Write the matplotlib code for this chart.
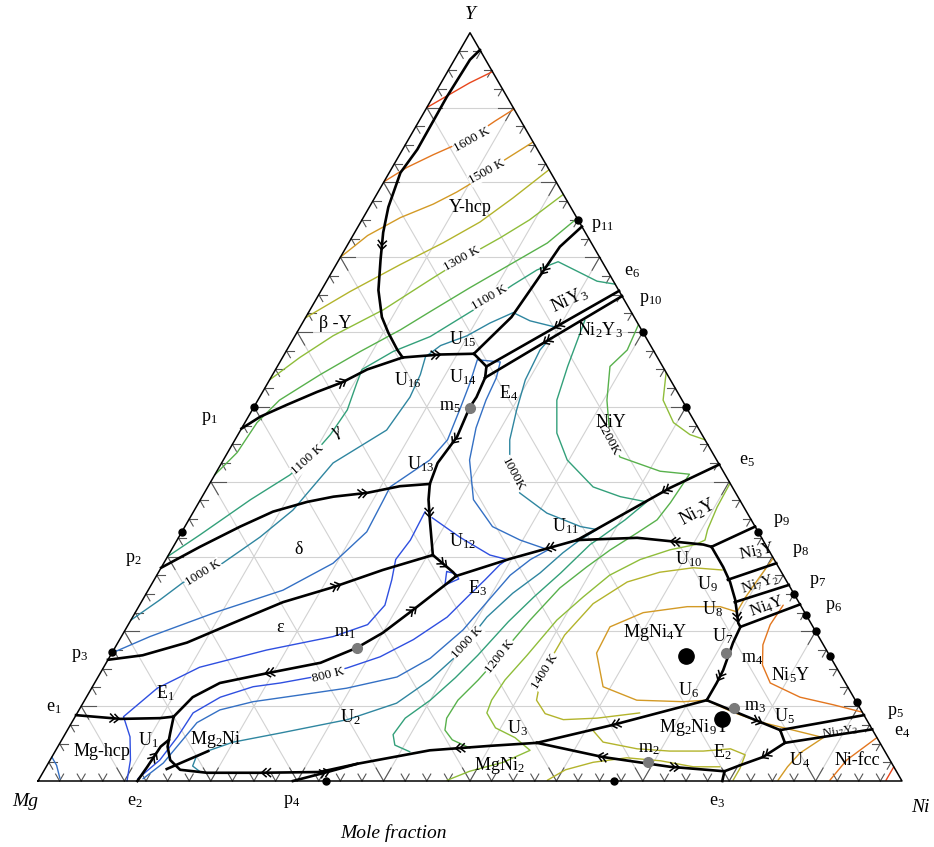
import numpy as np
import matplotlib
matplotlib.use("Agg")
import matplotlib.pyplot as plt

plt.rcParams['font.family'] = ['Liberation Serif', 'DejaVu Serif']
plt.rcParams['mathtext.fontset'] = 'custom'
plt.rcParams['mathtext.rm'] = 'Liberation Serif'
plt.rcParams['mathtext.it'] = 'Liberation Serif:italic'

# ---------------------------------------------------------------------------
# Mg-Ni-Y liquidus projection; every point is (x_Ni, x_Y) in mole fraction
# ---------------------------------------------------------------------------

# univariant (boundary) curves
bnd_Yhcp_betaY = [(0.023, 0.977), (0.018, 0.964), (0.016, 0.914), (0.017, 0.844), (0.013, 0.813),
                  (0.022, 0.767), (0.033, 0.733), (0.048, 0.697), (0.066, 0.656), (0.088, 0.620),
                  (0.106, 0.599), (0.128, 0.576), (0.139, 0.566)]
bnd_betaY_gamma = [(0.0, 0.471), (0.014, 0.487), (0.037, 0.503), (0.063, 0.520), (0.086, 0.533),
                   (0.106, 0.550), (0.139, 0.566)]
bnd_U16_U15 = [(0.139, 0.566), (0.181, 0.570), (0.219, 0.571)]
bnd_U15_p11 = [(0.219, 0.571), (0.238, 0.620), (0.243, 0.670), (0.247, 0.714), (0.259, 0.741)]
bnd_U15_U14 = [(0.219, 0.571), (0.242, 0.554)]
bnd_U14_e6 = [(0.242, 0.554), (0.345, 0.655)]
bnd_U14_E4 = [(0.242, 0.554), (0.248, 0.539)]
bnd_E4_e6 = [(0.248, 0.539), (0.352, 0.648)]
bnd_E4_U12 = [(0.248, 0.539), (0.251, 0.513), (0.250, 0.499), (0.255, 0.460), (0.250, 0.425),
              (0.255, 0.397), (0.264, 0.376), (0.279, 0.349), (0.306, 0.302)]
bnd_gamma_delta = [(0.0, 0.285), (0.031, 0.313), (0.064, 0.340), (0.092, 0.360), (0.125, 0.373),
                   (0.152, 0.380), (0.188, 0.385), (0.222, 0.394), (0.255, 0.397)]
bnd_delta_eps = [(0.0, 0.162), (0.037, 0.168), (0.080, 0.185), (0.120, 0.211), (0.164, 0.239),
                 (0.212, 0.259), (0.258, 0.282), (0.306, 0.302)]
bnd_U12_E3 = [(0.306, 0.302), (0.341, 0.279), (0.347, 0.274)]
bnd_E1_E3 = [(0.114, 0.086), (0.123, 0.112), (0.145, 0.131), (0.193, 0.144), (0.248, 0.158),
             (0.280, 0.178), (0.300, 0.198), (0.320, 0.229), (0.342, 0.265), (0.347, 0.274)]
bnd_e1_E1 = [(0.0, 0.088), (0.054, 0.083), (0.099, 0.084), (0.114, 0.086)]
bnd_E3_U11 = [(0.347, 0.274), (0.398, 0.297), (0.463, 0.322)]
bnd_U11_e5 = [(0.463, 0.322), (0.536, 0.392), (0.577, 0.423)]
bnd_U11_U10 = [(0.463, 0.322), (0.531, 0.325), (0.612, 0.316), (0.623, 0.313)]
bnd_U10_p9 = [(0.623, 0.313), (0.660, 0.340)]
bnd_U10_U6 = [(0.623, 0.313), (0.650, 0.286), (0.668, 0.266), (0.686, 0.242), (0.705, 0.211),
              (0.710, 0.206), (0.712, 0.185), (0.719, 0.148), (0.720, 0.131), (0.720, 0.108)]
bnd_U9_p8 = [(0.664, 0.269), (0.709, 0.291)]
bnd_U8_p7 = [(0.687, 0.239), (0.738, 0.262)]
bnd_U7_p6 = [(0.710, 0.206), (0.764, 0.236)]
bnd_U6_U3 = [(0.720, 0.108), (0.628, 0.075), (0.552, 0.051)]
bnd_U3_E2 = [(0.552, 0.051), (0.638, 0.032), (0.722, 0.019), (0.788, 0.013)]
bnd_E2_e3 = [(0.788, 0.013), (0.792, 0.0)]
bnd_E2_U4 = [(0.788, 0.013), (0.802, 0.021), (0.823, 0.032), (0.839, 0.051)]
bnd_U4_e4 = [(0.839, 0.051), (0.931, 0.069)]
bnd_U4_U5 = [(0.839, 0.051), (0.825, 0.068)]
bnd_U5_p5 = [(0.825, 0.068), (0.912, 0.088)]
bnd_U6_U5 = [(0.720, 0.108), (0.775, 0.087), (0.825, 0.068)]
bnd_E1_U3 = [(0.114, 0.086), (0.121, 0.064), (0.127, 0.046), (0.139, 0.028), (0.157, 0.015),
             (0.190, 0.011), (0.252, 0.011), (0.320, 0.012), (0.358, 0.023), (0.433, 0.041),
             (0.500, 0.047), (0.552, 0.051)]
bnd_p4_U2 = [(0.295, 0.0), (0.329, 0.012), (0.358, 0.023)]
bnd_e2_U1 = [(0.115, 0.0), (0.117, 0.019), (0.119, 0.046), (0.124, 0.055)]
bnd_Mg2Ni_ext = [(0.141, 0.016), (0.177, 0.040)]

# liquidus isotherms (temperature in K, polyline)
iso_1700_Y = [(0.0, 0.900), (0.016, 0.916), (0.033, 0.933), (0.052, 0.948)]
iso_1600_Y = [(0.0, 0.801), (0.017, 0.820), (0.039, 0.837), (0.055, 0.848), (0.074, 0.864),
              (0.088, 0.882), (0.102, 0.898)]
iso_1500_Y = [(0.0, 0.700), (0.017, 0.729), (0.043, 0.753), (0.072, 0.771), (0.091, 0.787),
              (0.109, 0.806), (0.125, 0.830), (0.146, 0.854)]
iso_1400_Y = [(0.0, 0.619), (0.034, 0.654), (0.074, 0.690), (0.109, 0.719), (0.138, 0.747),
              (0.160, 0.779), (0.183, 0.817)]
iso_1300_Y = [(0.0, 0.536), (0.020, 0.566), (0.044, 0.595), (0.085, 0.630), (0.119, 0.670),
              (0.148, 0.703), (0.172, 0.726), (0.194, 0.750), (0.216, 0.784)]
iso_1200_Y = [(0.0, 0.409), (0.011, 0.439), (0.014, 0.479), (0.025, 0.509), (0.055, 0.543),
              (0.086, 0.574), (0.118, 0.603), (0.140, 0.627), (0.170, 0.659), (0.201, 0.690),
              (0.230, 0.719), (0.248, 0.752)]
iso_1100_Y = [(0.0, 0.300), (0.023, 0.329), (0.058, 0.376), (0.087, 0.409), (0.099, 0.432),
              (0.107, 0.463), (0.110, 0.496), (0.103, 0.532), (0.100, 0.550), (0.124, 0.574),
              (0.157, 0.594), (0.187, 0.627), (0.202, 0.643), (0.218, 0.663), (0.236, 0.683),
              (0.255, 0.694), (0.293, 0.677), (0.313, 0.668), (0.336, 0.664)]
iso_1000_Y = [(0.0, 0.215), (0.020, 0.242), (0.035, 0.265), (0.068, 0.291), (0.094, 0.326),
              (0.114, 0.362), (0.129, 0.425), (0.169, 0.469), (0.174, 0.513), (0.171, 0.543),
              (0.165, 0.567), (0.175, 0.582), (0.199, 0.595), (0.217, 0.612), (0.237, 0.626),
              (0.262, 0.615), (0.298, 0.606)]
iso_900_loop = [(0.0, 0.171), (0.033, 0.193), (0.094, 0.226), (0.156, 0.255), (0.196, 0.291),
                (0.214, 0.333), (0.212, 0.376), (0.211, 0.393), (0.218, 0.402), (0.239, 0.429),
                (0.246, 0.456), (0.240, 0.496), (0.234, 0.532), (0.227, 0.563), (0.255, 0.560),
                (0.261, 0.539), (0.264, 0.509), (0.271, 0.472), (0.285, 0.429), (0.316, 0.376),
                (0.356, 0.340), (0.397, 0.322), (0.436, 0.309), (0.422, 0.296), (0.409, 0.275),
                (0.400, 0.239), (0.391, 0.202), (0.372, 0.164), (0.346, 0.139), (0.295, 0.124),
                (0.246, 0.115), (0.196, 0.106), (0.163, 0.095), (0.145, 0.078), (0.139, 0.051),
                (0.133, 0.024), (0.120, 0.003)]
iso_900_Mg = [(0.0, 0.032), (0.011, 0.021), (0.024, 0.003)]
iso_800_low = [(0.114, 0.003), (0.127, 0.028), (0.132, 0.059), (0.134, 0.091), (0.155, 0.112),
               (0.186, 0.126), (0.215, 0.131), (0.249, 0.139), (0.282, 0.151), (0.313, 0.166),
               (0.340, 0.189), (0.364, 0.219), (0.374, 0.246), (0.383, 0.269), (0.390, 0.289),
               (0.395, 0.296), (0.372, 0.302), (0.325, 0.326), (0.280, 0.352)]
iso_800_eps = [(0.103, 0.0), (0.093, 0.028), (0.077, 0.059), (0.056, 0.086), (0.076, 0.124),
               (0.111, 0.152), (0.177, 0.175), (0.245, 0.193), (0.277, 0.209), (0.284, 0.235),
               (0.275, 0.269), (0.266, 0.296), (0.270, 0.322), (0.268, 0.360)]
iso_800_E3 = [(0.333, 0.280), (0.340, 0.262), (0.352, 0.270), (0.345, 0.277), (0.333, 0.280)]
iso_1000_low = [(0.182, 0.012), (0.169, 0.020), (0.167, 0.032), (0.178, 0.041), (0.200, 0.052),
                (0.248, 0.064), (0.317, 0.082), (0.363, 0.104), (0.386, 0.135), (0.401, 0.168),
                (0.410, 0.219), (0.424, 0.251), (0.442, 0.278), (0.455, 0.305), (0.466, 0.322),
                (0.479, 0.336), (0.458, 0.340), (0.410, 0.358), (0.365, 0.385), (0.338, 0.416),
                (0.318, 0.456), (0.306, 0.496), (0.296, 0.536), (0.293, 0.576), (0.297, 0.592)]
iso_1100_low = [(0.411, 0.039), (0.389, 0.048), (0.380, 0.062), (0.383, 0.084), (0.400, 0.108),
                (0.414, 0.138), (0.425, 0.168), (0.438, 0.213), (0.451, 0.246), (0.466, 0.278),
                (0.481, 0.316), (0.488, 0.325), (0.505, 0.349), (0.518, 0.373), (0.484, 0.380),
                (0.446, 0.393), (0.398, 0.429), (0.368, 0.465), (0.346, 0.509), (0.336, 0.554),
                (0.325, 0.616)]
iso_1200_low = [(0.478, 0.044), (0.452, 0.055), (0.437, 0.068), (0.431, 0.084), (0.432, 0.108),
                (0.442, 0.135), (0.451, 0.168), (0.462, 0.215), (0.475, 0.258), (0.492, 0.286),
                (0.508, 0.309), (0.528, 0.332), (0.542, 0.349), (0.546, 0.372), (0.549, 0.410),
                (0.513, 0.414), (0.457, 0.433), (0.429, 0.465), (0.404, 0.509), (0.385, 0.554),
                (0.394, 0.576), (0.390, 0.610)]
iso_1300_low = [(0.473, 0.001), (0.493, 0.013), (0.526, 0.025), (0.549, 0.041), (0.523, 0.058),
                (0.494, 0.071), (0.474, 0.091), (0.471, 0.108), (0.473, 0.135), (0.482, 0.168),
                (0.493, 0.215), (0.508, 0.246), (0.524, 0.275), (0.549, 0.296), (0.577, 0.309),
                (0.603, 0.316), (0.611, 0.322), (0.607, 0.336), (0.603, 0.366), (0.602, 0.398)]
iso_1300_NiY = [(0.454, 0.546), (0.469, 0.509), (0.496, 0.479), (0.523, 0.463), (0.544, 0.456)]
iso_1400_mid = [(0.651, 0.091), (0.605, 0.084), (0.567, 0.082), (0.542, 0.090), (0.523, 0.108),
                (0.514, 0.135), (0.512, 0.162), (0.512, 0.195), (0.524, 0.237), (0.549, 0.266),
                (0.580, 0.279), (0.616, 0.285), (0.651, 0.282)]
iso_1400_low = [(0.608, 0.068), (0.628, 0.052), (0.672, 0.043), (0.711, 0.040), (0.750, 0.040),
                (0.780, 0.043), (0.801, 0.035), (0.804, 0.017), (0.804, 0.001)]
iso_1400_base = [(0.589, 0.001), (0.603, 0.015), (0.630, 0.025), (0.666, 0.031), (0.707, 0.027),
                 (0.749, 0.019), (0.780, 0.019)]
iso_1500 = [(0.702, 0.298), (0.699, 0.273), (0.696, 0.245), (0.696, 0.226), (0.673, 0.233),
            (0.635, 0.233), (0.588, 0.225), (0.559, 0.206), (0.561, 0.171), (0.591, 0.126),
            (0.639, 0.108), (0.694, 0.106), (0.720, 0.108), (0.758, 0.092), (0.796, 0.079),
            (0.840, 0.068), (0.880, 0.058), (0.863, 0.037), (0.858, 0.019), (0.856, 0.001)]
iso_1600_Ni5Y = [(0.745, 0.235), (0.743, 0.209), (0.748, 0.182), (0.761, 0.155), (0.782, 0.131),
                 (0.826, 0.112), (0.869, 0.102), (0.908, 0.092)]
iso_1600_Ni = [(0.916, 0.001), (0.922, 0.028), (0.942, 0.058)]
iso_1700_Ni = [(0.981, 0.001), (0.981, 0.019)]

# compositions of the compounds on the binary edges and special points
edge_points = [(0.0, 0.5), (0.0, 1/3), (0.0, 0.1724), (1/3, 0.0), (2/3, 0.0), (0.25, 0.75),
               (0.4, 0.6), (0.5, 0.5), (2/3, 1/3), (0.75, 0.25), (7/9, 2/9), (0.8, 0.2),
               (5/6, 1/6), (17/19, 2/19)]
ternary_compounds = [(4/6, 1/6), (9/12, 1/12)]          # MgNi4Y, Mg2Ni9Y
saddle_points = [(0.280, 0.178), (0.693, 0.025), (0.756, 0.098), (0.711, 0.171), (0.250, 0.499)]

isotherm_temps = [800, 900, 1000, 1100, 1200, 1300, 1400, 1500, 1600, 1700]
isotherm_colors = ['#2f4fe0', '#3470c4', '#2f86a0', '#33a07a', '#58b14c', '#8fbd3a',
                   '#b3b42c', '#d39a26', '#e3761f', '#e8461c']

boundaries = [bnd_Yhcp_betaY, bnd_betaY_gamma, bnd_U16_U15, bnd_U15_p11, bnd_U15_U14, bnd_U14_e6,
              bnd_U14_E4, bnd_E4_e6, bnd_E4_U12, bnd_gamma_delta, bnd_delta_eps, bnd_U12_E3,
              bnd_E1_E3, bnd_e1_E1, bnd_E3_U11, bnd_U11_e5, bnd_U11_U10, bnd_U10_p9, bnd_U10_U6,
              bnd_U9_p8, bnd_U8_p7, bnd_U7_p6, bnd_U6_U3, bnd_U3_E2, bnd_E2_e3, bnd_E2_U4,
              bnd_U4_e4, bnd_U4_U5, bnd_U5_p5, bnd_U6_U5, bnd_E1_U3, bnd_p4_U2, bnd_e2_U1,
              bnd_Mg2Ni_ext]

isotherms = [(1700, iso_1700_Y), (1600, iso_1600_Y), (1500, iso_1500_Y), (1400, iso_1400_Y),
             (1300, iso_1300_Y), (1200, iso_1200_Y), (1100, iso_1100_Y), (1000, iso_1000_Y),
             (900, iso_900_loop), (900, iso_900_Mg), (800, iso_800_low), (800, iso_800_eps),
             (800, iso_800_E3),
             (1000, iso_1000_low), (1100, iso_1100_low), (1200, iso_1200_low),
             (1300, iso_1300_low), (1300, iso_1300_NiY), (1400, iso_1400_mid),
             (1400, iso_1400_low), (1400, iso_1400_base), (1500, iso_1500),
             (1600, iso_1600_Ni5Y), (1600, iso_1600_Ni), (1700, iso_1700_Ni)]

# direction of falling temperature along the boundary curves: (curve, position, sense)
arrows = [(bnd_Yhcp_betaY, 0.66, 1), (bnd_betaY_gamma, 0.64, 1), (bnd_U16_U15, 0.5, 1),
          (bnd_U15_p11, 0.64, -1), (bnd_U14_e6, 0.53, -1), (bnd_E4_e6, 0.44, -1),
          (bnd_E4_U12, 0.37, 1), (bnd_E4_U12, 0.79, 1), (bnd_gamma_delta, 0.77, 1),
          (bnd_delta_eps, 0.71, 1), (bnd_E1_E3, 0.33, -1), (bnd_E1_E3, 0.835, 1),
          (bnd_e1_E1, 0.42, 1), (bnd_U12_E3, 0.5, 1), (bnd_E3_U11, 0.76, -1),
          (bnd_U11_e5, 0.62, -1), (bnd_U11_U10, 0.71, -1), (bnd_U10_U6, 0.47, 1),
          (bnd_U10_U6, 0.85, 1), (bnd_U6_U3, 0.55, 1), (bnd_U3_E2, 0.34, -1),
          (bnd_U3_E2, 0.75, 1), (bnd_E2_U4, 0.63, -1), (bnd_U6_U5, 0.72, 1),
          (bnd_E1_U3, 0.34, -1), (bnd_E1_U3, 0.81, -1), (bnd_p4_U2, 0.53, 1),
          (bnd_e2_U1, 0.6, 1)]

isotherm_labels = [("1600 K", 0.074, 0.857, 29), ("1500 K", 0.113, 0.814, 29),
                   ("1300 K", 0.142, 0.698, 29), ("1100 K", 0.200, 0.646, 30),
                   ("1100 K", 0.098, 0.429, 42), ("1000 K", 0.052, 0.278, 32),
                   ("800 K", 0.265, 0.142, 14), ("1000 K", 0.404, 0.185, 47),
                   ("1200 K", 0.452, 0.166, 52), ("1400 K", 0.514, 0.146, 58),
                   ("1000K", 0.345, 0.410, -62), ("1200K", 0.432, 0.456, -62)]

phase_labels = [("Y-hcp", 0.117, 0.766, 0, 13), ("β -Y", 0.038, 0.612, 0, 13),
                ("γ", 0.111, 0.467, 20, 13), ("δ", 0.147, 0.309, 0, 13), ("ε", 0.178, 0.205, 0, 13),
                ("Mg-hcp", 0.055, 0.039, 0, 13), ("Mg$_2$Ni", 0.178, 0.055, 0, 13),
                ("MgNi$_2$", 0.524, 0.021, 0, 13), ("NiY$_3$", 0.294, 0.643, 25, 13),
                ("Ni$_2$Y$_3$", 0.350, 0.602, 0, 13), ("NiY", 0.423, 0.479, 0, 13),
                ("Ni$_2$Y", 0.584, 0.360, 28, 13), ("Ni$_3$Y", 0.679, 0.306, 12, 12),
                ("Ni$_7$Y$_2$", 0.704, 0.263, 18, 11), ("Ni$_4$Y", 0.728, 0.233, 20, 12),
                ("Ni$_5$Y", 0.800, 0.142, 0, 13), ("Ni-fcc", 0.935, 0.027, 0, 13),
                ("MgNi$_4$Y", 0.615, 0.198, 0, 13), ("Mg$_2$Ni$_9$Y", 0.724, 0.072, 0, 13),
                ("Ni$_{17}$Y$_2$", 0.895, 0.066, 8, 9)]

point_labels = [("U$_2$", 0.318, 0.086), ("U$_3$", 0.519, 0.071), ("E$_1$", 0.088, 0.118),
                ("U$_1$", 0.100, 0.055), ("m$_1$", 0.256, 0.198), ("E$_3$", 0.380, 0.258),
                ("U$_{12}$", 0.331, 0.320), ("U$_{13}$", 0.231, 0.423), ("U$_{11}$", 0.440, 0.340),
                ("U$_{16}$", 0.160, 0.536), ("U$_{15}$", 0.196, 0.591), ("U$_{14}$", 0.222, 0.540),
                ("m$_5$", 0.227, 0.500), ("E$_4$", 0.285, 0.519), ("U$_4$", 0.868, 0.028),
                ("E$_2$", 0.772, 0.039), ("m$_2$", 0.685, 0.043), ("m$_3$", 0.780, 0.099),
                ("U$_5$", 0.821, 0.087), ("U$_6$", 0.692, 0.122), ("m$_4$", 0.744, 0.164),
                ("U$_7$", 0.695, 0.194), ("U$_8$", 0.666, 0.230), ("U$_9$", 0.643, 0.263),
                ("U$_{10}$", 0.605, 0.296),
                ("p$_{11}$", 0.282, 0.743), ("e$_6$", 0.347, 0.681), ("p$_{10}$", 0.388, 0.643),
                ("e$_5$", 0.606, 0.429), ("p$_9$", 0.687, 0.348), ("p$_8$", 0.728, 0.308),
                ("p$_7$", 0.769, 0.266), ("p$_6$", 0.804, 0.233), ("p$_5$", 0.947, 0.092),
                ("e$_4$", 0.967, 0.066), ("p$_1$", -0.044, 0.485), ("p$_2$", -0.038, 0.296),
                ("p$_3$", -0.036, 0.168), ("e$_1$", -0.031, 0.098), ("e$_2$", 0.126, -0.027),
                ("p$_4$", 0.307, -0.027), ("e$_3$", 0.799, -0.027)]

# ---------------------------------------------------------------------------
SQ3 = np.sqrt(3) / 2
PX = 1 / 864.0   # one pixel in triangle units


def tern(pts):
    a = np.asarray(pts, dtype=float)
    return a[:, 0] + a[:, 1] / 2, a[:, 1] * SQ3


def t1(ni, y):
    return ni + y / 2, y * SQ3


fig = plt.figure(figsize=(9.34, 8.47), dpi=100)
ax = fig.add_axes([0, 0, 1, 1])
ax.set_xlim(-38 / 864, 896 / 864)
ax.set_ylim(-66 / 864, 781 / 864)
ax.axis('off')

# grid
for k in range(1, 10):
    t = k / 10
    for seg in ([(0, t), (1 - t, t)], [(t, 0), (t, 1 - t)], [(t, 0), (0, t)]):
        x, y = tern(seg)
        ax.plot(x, y, color='#d2d2d2', lw=0.8, zorder=1)

# ticks on the three edges
def tick(p, d, length):
    x0, y0 = t1(*p)
    ax.plot([x0, x0 + d[0] * length], [y0, y0 + d[1] * length], color='#555555', lw=0.8, zorder=2)

for k in range(1, 40):
    t = k / 40
    ln = (15 if k % 4 == 0 else 8) * PX
    tick((t, 0), (0.5, SQ3), ln)
    tick((t, 0), (-0.5, SQ3), ln)
    tick((0, t), (1, 0), ln)
    tick((0, t), (0.5, -SQ3), ln)
    tick((1 - t, t), (-1, 0), ln)
    tick((1 - t, t), (-0.5, -SQ3), ln)

# triangle outline
x, y = tern([(0, 0), (1, 0), (0, 1), (0, 0)])
ax.plot(x, y, color='black', lw=1.1, zorder=6)

# isotherms
cmap = dict(zip(isotherm_temps, isotherm_colors))
for T, pts in isotherms:
    x, y = tern(pts)
    ax.plot(x, y, color=cmap[T], lw=1.0, zorder=3, solid_capstyle='round')

for txt, ni, yy, rot in isotherm_labels:
    x0, y0 = t1(ni, yy)
    ax.text(x0, y0, txt, fontsize=9.5, rotation=rot, ha='center', va='center',
            rotation_mode='anchor', zorder=4,
            bbox=dict(boxstyle='square,pad=0.05', fc='white', ec='none'))

# boundary curves
for pts in boundaries:
    x, y = tern(pts)
    ax.plot(x, y, color='black', lw=1.9, zorder=5, solid_joinstyle='round')

# double chevrons
def chevrons(pts, frac, sense):
    X, Y = tern(pts)
    d = np.hypot(np.diff(X), np.diff(Y))
    s = np.concatenate([[0], np.cumsum(d)])
    target = frac * s[-1]
    i = int(np.clip(np.searchsorted(s, target) - 1, 0, len(d) - 1))
    t = (target - s[i]) / d[i]
    cx, cy = X[i] + t * (X[i + 1] - X[i]), Y[i] + t * (Y[i + 1] - Y[i])
    ux, uy = sense * (X[i + 1] - X[i]) / d[i], sense * (Y[i + 1] - Y[i]) / d[i]
    nx, ny = -uy, ux
    L, W = 4.5 * PX, 4.0 * PX
    for off in (2.2 * PX, -2.2 * PX):
        tx, ty = cx + ux * off, cy + uy * off
        ax.plot([tx - ux * L + nx * W, tx, tx - ux * L - nx * W],
                [ty - uy * L + ny * W, ty, ty - uy * L - ny * W],
                color='black', lw=1.1, zorder=6)

for pts, frac, sense in arrows:
    chevrons(pts, frac, sense)

# points
for ni, yy in edge_points:
    x0, y0 = t1(ni, yy)
    ax.plot(x0, y0, 'o', color='black', ms=5, zorder=7)
for ni, yy in ternary_compounds:
    x0, y0 = t1(ni, yy)
    ax.plot(x0, y0, 'o', color='black', ms=11, zorder=7)
for ni, yy in saddle_points:
    x0, y0 = t1(ni, yy)
    ax.plot(x0, y0, 'o', color='#7a7a7a', ms=7, zorder=7)

# labels
for txt, ni, yy, rot, fs in phase_labels:
    x0, y0 = t1(ni, yy)
    ax.text(x0, y0, txt, fontsize=fs, rotation=rot, ha='center', va='center', zorder=8)
for txt, ni, yy in point_labels:
    x0, y0 = t1(ni, yy)
    ax.text(x0, y0, txt, fontsize=13, ha='center', va='center', zorder=8)

for txt, ni, yy in [("Y", -0.012, 1.024), ("Mg", -0.001, -0.028), ("Ni", 1.039, -0.036)]:
    x0, y0 = t1(ni, yy)
    ax.text(x0, y0, txt, fontsize=14, style='italic', ha='center', va='center')
x0, y0 = t1(0.446, -0.070)
ax.text(x0, y0, "Mole fraction", fontsize=14, style='italic', ha='center', va='center')

fig.savefig("out.png", dpi=100, facecolor='white')
